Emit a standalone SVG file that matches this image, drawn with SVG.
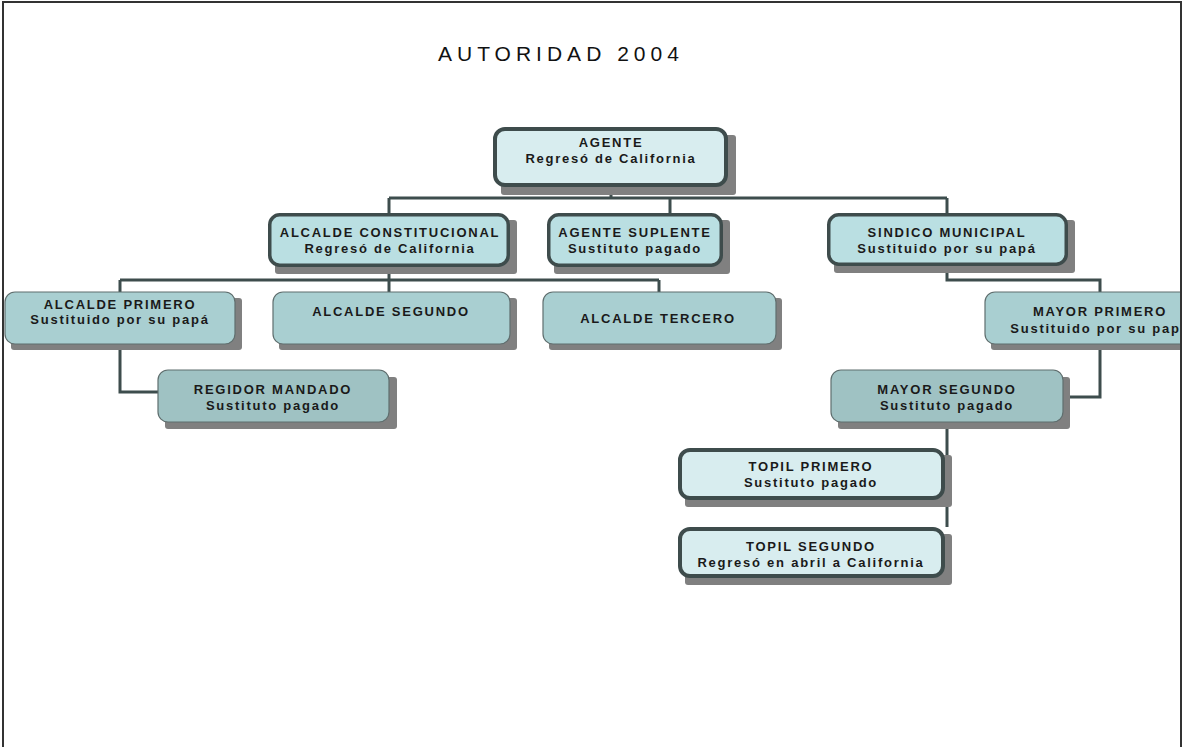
<svg xmlns="http://www.w3.org/2000/svg" width="1183" height="747" viewBox="0 0 1183 747">
  <defs>
    <clipPath id="page">
      <rect x="3" y="2" width="1178" height="760"/>
    </clipPath>
  </defs>
  <style>
    .title { font-family: "Liberation Sans", Arial, sans-serif; font-size: 21px; letter-spacing: 5px; fill: #111; }
    .lbl { font-family: "Liberation Sans", Arial, sans-serif; font-size: 13px; font-weight: bold; letter-spacing: 1.75px; fill: #1a1a1a; text-anchor: middle; }
    .shadow { fill: #808080; }
    .l1 { fill: #d8edef; stroke: #3e4c4c; stroke-width: 4; }
    .l2 { fill: #badfe2; stroke: #3e4c4c; stroke-width: 3.5; }
    .l3 { fill: #a9cfd1; stroke: #5f6e6e; stroke-width: 1.2; }
    .l4 { fill: #9fc2c3; stroke: #5f6e6e; stroke-width: 1.2; }
    .wire { fill: none; stroke: #3d4d4d; stroke-width: 3; }
  </style>

  <rect width="1183" height="747" fill="#ffffff"/>

  <text class="title" x="438" y="61">AUTORIDAD 2004</text>

  <!-- connectors -->
  <g id="connectors">
    <path class="wire" d="M611,187 V198"/>
    <path class="wire" d="M389,198 H947"/>
    <path class="wire" d="M389,198 V213"/>
    <path class="wire" d="M670,198 V213"/>
    <path class="wire" d="M947,198 V213"/>
    <path class="wire" d="M389,267 V280"/>
    <path class="wire" d="M120,280 H659"/>
    <path class="wire" d="M120,280 V292"/>
    <path class="wire" d="M389,280 V292"/>
    <path class="wire" d="M659,280 V292"/>
    <path class="wire" d="M120,344 V392 H158"/>
    <path class="wire" d="M947,266 V280 H1100 V292"/>
    <path class="wire" d="M1100,344 V397 H1063"/>
    <path class="wire" d="M947,422 V527"/>
  </g>

  <!-- top level -->
  <g id="agente">
    <rect class="shadow" x="501" y="135" width="235" height="60" rx="3"/>
    <rect class="l1" x="495" y="129" width="231" height="56" rx="10"/>
    <text class="lbl" x="611" y="147">AGENTE</text>
    <text class="lbl" x="611" y="163">Regresó de California</text>
  </g>

  <g id="alcalde-constitucional">
    <rect class="shadow" x="275" y="220" width="242" height="54" rx="3"/>
    <rect class="l2" x="269.75" y="214.75" width="238.5" height="50.5" rx="10"/>
    <text class="lbl" x="390" y="237">ALCALDE CONSTITUCIONAL</text>
    <text class="lbl" x="390" y="253">Regresó de California</text>
  </g>

  <g id="agente-suplente">
    <rect class="shadow" x="554" y="220" width="176" height="54" rx="3"/>
    <rect class="l2" x="548.75" y="214.75" width="172.5" height="50.5" rx="10"/>
    <text class="lbl" x="635" y="237">AGENTE SUPLENTE</text>
    <text class="lbl" x="635" y="253">Sustituto pagado</text>
  </g>

  <g id="sindico-municipal">
    <rect class="shadow" x="834" y="220" width="241" height="53" rx="3"/>
    <rect class="l2" x="828.75" y="214.75" width="237.5" height="49.5" rx="10"/>
    <text class="lbl" x="947" y="237">SINDICO MUNICIPAL</text>
    <text class="lbl" x="947" y="253">Sustituido por su papá</text>
  </g>

  <!-- third row -->
  <g id="alcalde-primero">
    <rect class="shadow" x="11" y="298" width="231" height="52" rx="3"/>
    <rect class="l3" x="5" y="292" width="230" height="52" rx="10"/>
    <text class="lbl" x="120" y="309">ALCALDE PRIMERO</text>
    <text class="lbl" x="120" y="324">Sustituido por su papá</text>
  </g>

  <g id="alcalde-segundo">
    <rect class="shadow" x="279" y="298" width="238" height="52" rx="3"/>
    <rect class="l3" x="273" y="292" width="237" height="52" rx="10"/>
    <text class="lbl" x="391" y="316">ALCALDE SEGUNDO</text>
  </g>

  <g id="alcalde-tercero">
    <rect class="shadow" x="549" y="298" width="233" height="52" rx="3"/>
    <rect class="l3" x="543" y="292" width="233" height="52" rx="10"/>
    <text class="lbl" x="658" y="323">ALCALDE TERCERO</text>
  </g>

  <!-- this box runs past the page edge and is cut there -->
  <g id="mayor-primero" clip-path="url(#page)">
    <rect class="shadow" x="991" y="298" width="231" height="52" rx="3"/>
    <rect class="l3" x="985" y="292" width="230" height="52" rx="10"/>
    <text class="lbl" x="1100" y="316">MAYOR PRIMERO</text>
    <text class="lbl" x="1100" y="333">Sustituido por su papá</text>
  </g>

  <!-- fourth row -->
  <g id="regidor-mandado">
    <rect class="shadow" x="165" y="377" width="232" height="52" rx="3"/>
    <rect class="l4" x="158" y="370" width="231" height="52" rx="10"/>
    <text class="lbl" x="273" y="394">REGIDOR MANDADO</text>
    <text class="lbl" x="273" y="410">Sustituto pagado</text>
  </g>

  <g id="mayor-segundo">
    <rect class="shadow" x="838" y="377" width="232" height="52" rx="3"/>
    <rect class="l4" x="831" y="370" width="232" height="52" rx="10"/>
    <text class="lbl" x="947" y="394">MAYOR SEGUNDO</text>
    <text class="lbl" x="947" y="410">Sustituto pagado</text>
  </g>

  <!-- topiles -->
  <g id="topil-primero">
    <rect class="shadow" x="685" y="455" width="267" height="52" rx="3"/>
    <rect class="l1" x="680" y="450" width="263" height="48" rx="10"/>
    <text class="lbl" x="811" y="471">TOPIL PRIMERO</text>
    <text class="lbl" x="811" y="487">Sustituto pagado</text>
  </g>

  <g id="topil-segundo">
    <rect class="shadow" x="685" y="534" width="267" height="51" rx="3"/>
    <rect class="l1" x="680" y="529" width="263" height="47" rx="10"/>
    <text class="lbl" x="811" y="551">TOPIL SEGUNDO</text>
    <text class="lbl" x="811" y="567">Regresó en abril a California</text>
  </g>

  <!-- page frame -->
  <rect x="3" y="2" width="1178" height="760" fill="none" stroke="#333333" stroke-width="2"/>
</svg>
